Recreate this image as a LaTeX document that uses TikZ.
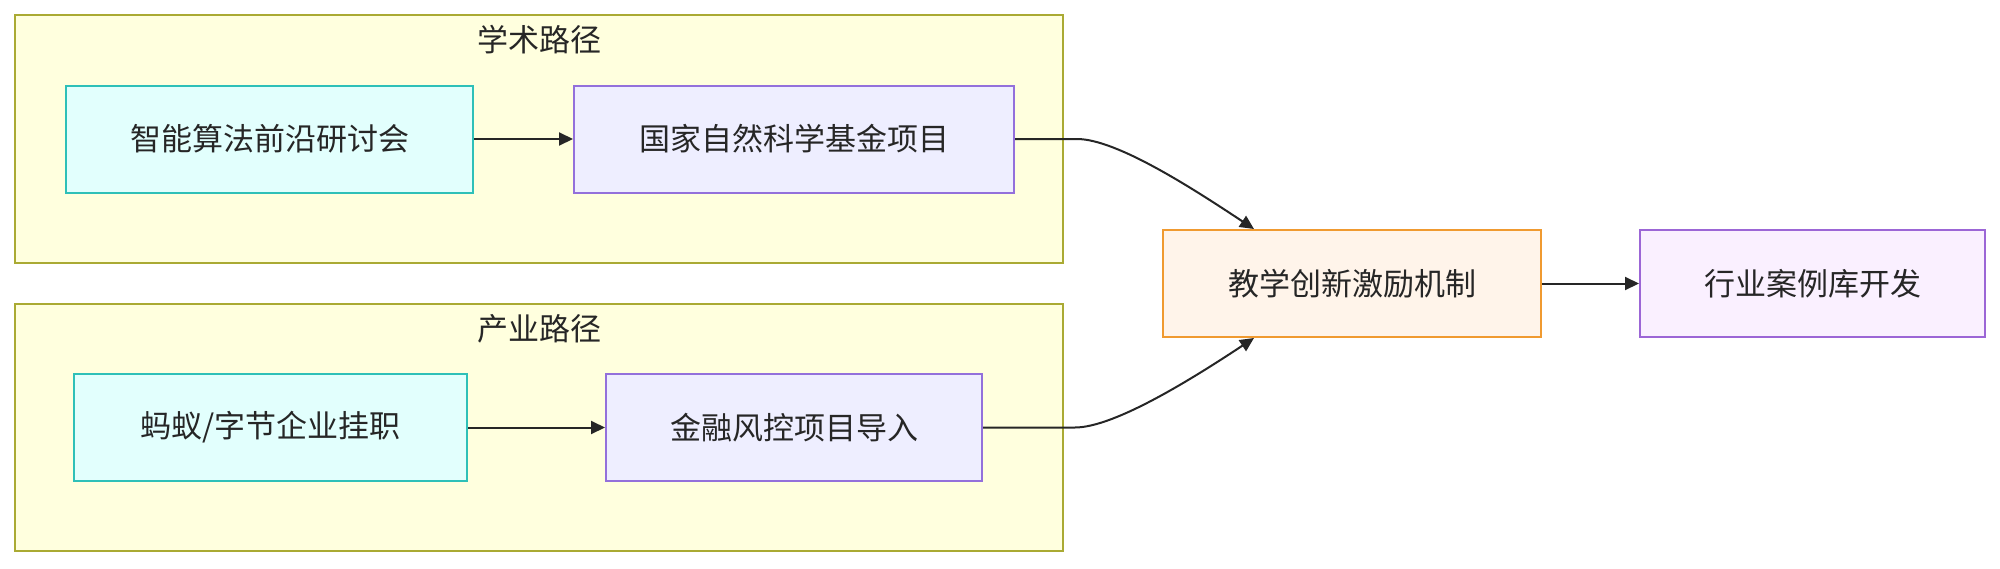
\documentclass[tikz,border=0pt]{standalone}
\usepackage{fontspec}
\setmainfont{Noto Sans CJK SC}
\usepackage{tikz}
\usetikzlibrary{shapes,arrows.meta}

\definecolor{clusterfill}{HTML}{FFFFDE}
\definecolor{clusterline}{HTML}{AAAA33}
\definecolor{cyanfill}{HTML}{E2FFFD}
\definecolor{cyanline}{HTML}{2EC0B8}
\definecolor{lilacfill}{HTML}{EEEEFF}
\definecolor{lilacline}{HTML}{9370DB}
\definecolor{orangefill}{HTML}{FFF4EA}
\definecolor{orangeline}{HTML}{F09A30}
\definecolor{pinkfill}{HTML}{FAF0FF}
\definecolor{pinkline}{HTML}{9C66D6}

\begin{document}
\begin{tikzpicture}[x=1pt,y=-1pt,>={Triangle[length=14pt,width=13pt]},line width=2pt,font=\fontsize{31}{38}\selectfont]
\tikzstyle{every node}=[inner sep=0pt,text=black!85]
\tikzstyle{box}=[rectangle,line width=2pt,minimum height=107pt]
\tikzstyle{cyanbox}=[box,fill=cyanfill,draw=cyanline]
\tikzstyle{lilacbox}=[box,fill=lilacfill,draw=lilacline]
\tikzstyle{link}=[->,draw=black!85]

\useasboundingbox (0,0) rectangle (2000,568);

% subgraphs
\draw[fill=clusterfill,draw=clusterline] (15,15) rectangle (1063,263);
\draw[fill=clusterfill,draw=clusterline] (15,304) rectangle (1063,551);
\node (T1) at (539,40) {学术路径};
\node (T2) at (539,329) {产业路径};

\node[cyanbox,minimum width=407pt]  (A) at (269.5,139)  {智能算法前沿研讨会};
\node[lilacbox,minimum width=440pt] (B) at (794,139)    {国家自然科学基金项目};
\node[cyanbox,minimum width=393pt]  (C) at (270.5,427.5) {蚂蚁/字节企业挂职};
\node[lilacbox,minimum width=376pt] (D) at (794,427.5)  {金融风控项目导入};
\node[box,fill=orangefill,draw=orangeline,minimum width=378pt] (E) at (1352,283.5) {教学创新激励机制};
\node[box,fill=pinkfill,draw=pinkline,minimum width=345pt]     (F) at (1812.5,283.5) {行业案例库开发};

\coordinate (Etop) at ([xshift=-98pt]E.north);
\coordinate (Ebot) at ([xshift=-98pt]E.south);

\path (A) edge [link] (B);
\path (C) edge [link] (D);
\path (E) edge [link] (F);
\draw[link] (B.east) -- ++(62,0) .. controls +(40,0) and (1195,190) .. (Etop);
\draw[link] (D.east) -- ++(92,0) .. controls +(40,0) and (1195,377) .. (Ebot);
\end{tikzpicture}
\end{document}
